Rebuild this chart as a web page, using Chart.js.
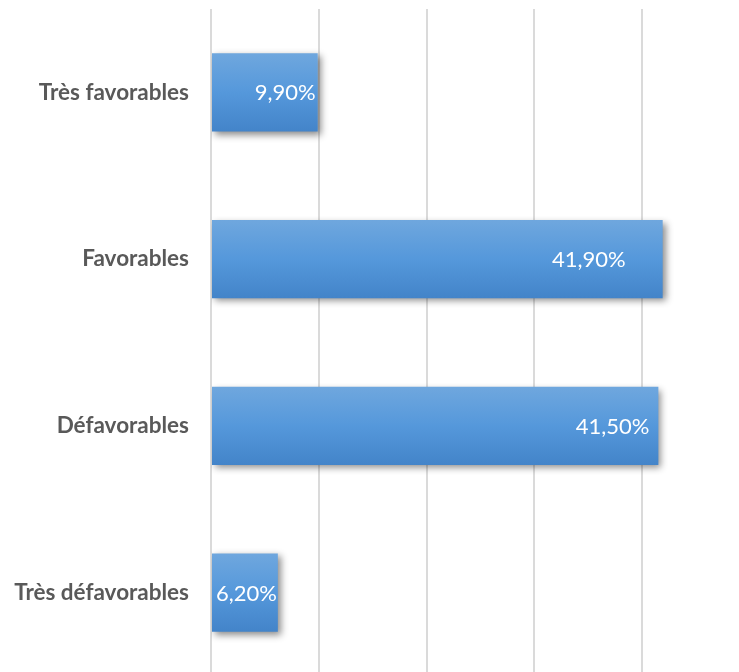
<!DOCTYPE html>
<html>
<head>
<meta charset="utf-8">
<script src="https://cdn.jsdelivr.net/npm/chart.js@4.4.1/dist/chart.umd.min.js"></script>
<style>
  html, body { margin: 0; padding: 0; background: #ffffff; overflow: hidden; }
  #wrap { width: 739px; height: 672px; overflow: hidden; position: relative; }
  canvas { display: block; }
</style>
</head>
<body>
<div id="wrap"><canvas id="chart" width="750" height="676"></canvas></div>
<script>
// Opinion categories and their share of answers (%)
const categories = ['Très favorables', 'Favorables', 'Défavorables', 'Très défavorables'];
const shares = [9.9, 41.9, 41.5, 6.2];
const shareLabels = ['9,90%', '41,90%', '41,50%', '6,20%'];

const BAR_PCT = 0.47;

// vertical blue gradient for each bar, computed from the category band
function barGradient(context) {
  const chart = context.chart;
  const yScale = chart.scales.y;
  if (!yScale || !chart.chartArea) return '#5b9bd5';
  const band = (chart.chartArea.bottom - chart.chartArea.top) / categories.length;
  const cy = yScale.getPixelForValue(context.dataIndex);
  const h = band * BAR_PCT;
  const g = chart.ctx.createLinearGradient(0, cy - h / 2, 0, cy + h / 2);
  g.addColorStop(0, '#6fa7de');
  g.addColorStop(0.5, '#5598db');
  g.addColorStop(1, '#4384c9');
  return g;
}

// soft drop shadow under the bars, then white value labels near each bar end
const barDecor = {
  id: 'barDecor',
  beforeDatasetsDraw(chart) {
    const ctx = chart.ctx;
    ctx.save();
    ctx.shadowColor = 'rgba(0,0,0,0.45)';
    ctx.shadowBlur = 7;
    ctx.shadowOffsetX = 3;
    ctx.shadowOffsetY = 3;
  },
  afterDatasetsDraw(chart, args, opts) {
    const ctx = chart.ctx;
    ctx.restore();
    const meta = chart.getDatasetMeta(0);
    ctx.save();
    ctx.font = '22px Lato, "Open Sans", sans-serif';
    ctx.fillStyle = '#ffffff';
    ctx.textAlign = 'right';
    ctx.textBaseline = 'middle';
    meta.data.forEach((bar, i) => {
      const inset = opts.insets[i] || 0;
      ctx.fillText(shareLabels[i], bar.x - inset, bar.y + 1);
    });
    ctx.restore();
  }
};

new Chart(document.getElementById('chart'), {
  type: 'bar',
  data: {
    labels: categories,
    datasets: [{
      data: shares,
      backgroundColor: barGradient,
      borderWidth: 0,
      categoryPercentage: 1,
      barPercentage: BAR_PCT
    }]
  },
  options: {
    indexAxis: 'y',
    responsive: false,
    animation: false,
    layout: { padding: { top: 9, right: 0, bottom: 0, left: 0 } },
    plugins: {
      legend: { display: false },
      tooltip: { enabled: false },
      barDecor: { insets: [2, 37, 9, 1] }
    },
    scales: {
      x: {
        min: 0,
        max: 50,
        afterFit(scale) { scale.height = 0; scale.paddingLeft = 0; scale.paddingRight = 0; },
        ticks: { display: false, stepSize: 10 },
        grid: { color: '#dadada', lineWidth: 2, drawTicks: false },
        border: { display: false }
      },
      y: {
        afterFit(scale) { scale.width = 211; scale.paddingTop = 0; scale.paddingBottom = 0; },
        grid: { display: false },
        border: { display: false },
        ticks: {
          color: '#595959',
          padding: 14,
          font: { family: 'Lato, "Open Sans", sans-serif', size: 22.5, weight: 'bold' }
        }
      }
    }
  },
  plugins: [barDecor]
});
</script>
</body>
</html>
